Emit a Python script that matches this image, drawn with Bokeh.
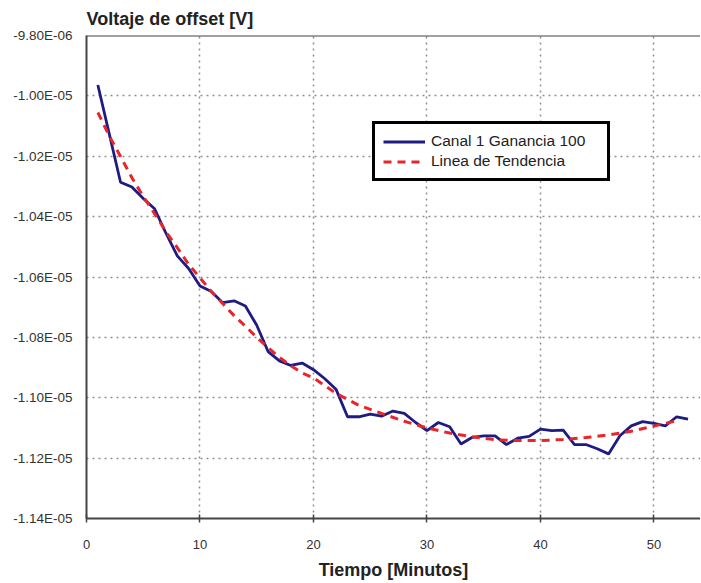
from bokeh.plotting import figure
from bokeh.models import (Range1d, FixedTicker, CustomJSTickFormatter, Legend, LegendItem, Span)
from bokeh.embed import file_html
from bokeh.resources import INLINE

# ---- data ----
minutes = list(range(1, 54))
canal1 = [-0.9964e-5, -1.0125e-5, -1.0286e-5, -1.0302e-5, -1.0340e-5, -1.0374e-5, -1.0455e-5,
          -1.0530e-5, -1.0572e-5, -1.0630e-5, -1.0648e-5, -1.0685e-5, -1.0679e-5, -1.0696e-5,
          -1.0760e-5, -1.0847e-5, -1.0878e-5, -1.0893e-5, -1.0885e-5, -1.0907e-5, -1.0937e-5,
          -1.0973e-5, -1.1063e-5, -1.1063e-5, -1.1054e-5, -1.1061e-5, -1.1044e-5, -1.1052e-5,
          -1.1082e-5, -1.1109e-5, -1.1082e-5, -1.1096e-5, -1.1153e-5, -1.1131e-5, -1.1126e-5,
          -1.1126e-5, -1.1155e-5, -1.1134e-5, -1.1128e-5, -1.1104e-5, -1.1109e-5, -1.1107e-5,
          -1.1155e-5, -1.1155e-5, -1.1169e-5, -1.1186e-5, -1.1126e-5, -1.1093e-5, -1.1079e-5,
          -1.1085e-5, -1.1093e-5, -1.1063e-5, -1.1071e-5]

trend_x = [1, 2, 3, 4, 5, 6, 7, 8, 9, 10, 11, 12, 13, 14, 15, 16, 17, 18, 19, 20, 22, 24, 26,
           28, 30, 32, 34, 36, 38, 40, 42, 44, 46, 48, 50, 52]
trend_y = [-1.0055e-5, -1.0132e-5, -1.0201e-5, -1.0271e-5, -1.0333e-5, -1.0390e-5, -1.0450e-5,
           -1.0503e-5, -1.0558e-5, -1.0603e-5, -1.0648e-5, -1.0688e-5, -1.0728e-5, -1.0763e-5,
           -1.0800e-5, -1.0834e-5, -1.0866e-5, -1.0894e-5, -1.0918e-5, -1.0934e-5, -1.0986e-5,
           -1.1025e-5, -1.1052e-5, -1.1078e-5, -1.1100e-5, -1.1117e-5, -1.1129e-5, -1.1139e-5,
           -1.1142e-5, -1.1142e-5, -1.1138e-5, -1.1132e-5, -1.1123e-5, -1.1111e-5, -1.1094e-5,
           -1.1076e-5]

ytick_values = [-1.14e-5, -1.12e-5, -1.10e-5, -1.08e-5, -1.06e-5, -1.04e-5, -1.02e-5, -1.00e-5, -9.80e-6]
ytick_labels = ["-1.14E-05", "-1.12E-05", "-1.10E-05", "-1.08E-05", "-1.06E-05", "-1.04E-05",
                "-1.02E-05", "-1.00E-05", "-9.80E-06"]
xtick_values = [0, 10, 20, 30, 40, 50]

series_names = ["Canal 1 Ganancia 100", "Linea de Tendencia"]

FONT = "Liberation Sans"

p = figure(width=700, height=582, output_backend="svg", toolbar_location=None,
           x_range=Range1d(0, 54.1), y_range=Range1d(-1.14e-5, -9.8e-6),
           min_border_left=86, min_border_right=0, min_border_top=34, min_border_bottom=60,
           title="Voltaje de offset [V]")
p.outline_line_color = None
p.background_fill_color = "white"

p.title.text_font = FONT
p.title.text_font_size = "18px"
p.title.text_font_style = "bold"
p.title.text_color = "#222222"
p.title.align = "left"
p.title.standoff = 13

# axes
xa = p.xaxis[0]
xa.ticker = FixedTicker(ticks=xtick_values)
xa.axis_label = "Tiempo [Minutos]"
xa.axis_label_text_font = FONT
xa.axis_label_text_font_size = "18px"
xa.axis_label_text_font_style = "bold"
xa.axis_label_text_color = "#222222"
xa.axis_label_standoff = 8
xa.major_label_text_font = FONT
xa.major_label_text_font_size = "13px"
xa.major_label_text_color = "#333333"
xa.major_label_standoff = 17
xa.major_tick_in = 4
xa.major_tick_out = 4
xa.minor_tick_line_color = None
xa.axis_line_width = 2
xa.axis_line_color = "#444444"
xa.major_tick_line_color = "#444444"
xa.major_tick_line_width = 1.5

ya = p.yaxis[0]
ya.ticker = FixedTicker(ticks=ytick_values)
ya.formatter = CustomJSTickFormatter(args=dict(vals=ytick_values, labs=ytick_labels), code="""
    for (let i = 0; i < vals.length; i++) {
        if (Math.abs(tick - vals[i]) < 1e-12) { return labs[i]; }
    }
    return "";
""")
ya.major_label_text_font = FONT
ya.major_label_text_font_size = "13.5px"
ya.major_label_text_color = "#333333"
ya.major_label_standoff = 14
ya.major_tick_in = 0
ya.major_tick_out = 0
ya.minor_tick_line_color = None
ya.axis_line_width = 2
ya.axis_line_color = "#444444"

for g in (p.xgrid[0], p.ygrid[0]):
    g.grid_line_color = "#8f8f8f"
    g.grid_line_dash = "2 4"
    g.grid_line_width = 1.5

p.add_layout(Span(location=-9.8e-6, dimension="width", line_color="#444444", line_width=2))

r1 = p.line(minutes, canal1, line_color="#1e1b82", line_width=2.8)
r2 = p.line(trend_x, trend_y, line_color="#e8262a", line_width=3, line_dash="8 6")

legend = Legend(items=[LegendItem(label=series_names[0], renderers=[r1]),
                       LegendItem(label=series_names[1], renderers=[r2])],
                location=(286, 337), border_line_color="black", border_line_width=3,
                border_line_alpha=1.0,
                background_fill_color="white", background_fill_alpha=1.0,
                label_text_font=FONT, label_text_font_size="15.5px", label_text_color="#222222",
                glyph_width=42, glyph_height=17, label_height=17, label_width=168,
                label_standoff=6, padding=8, spacing=2, margin=0)
p.add_layout(legend, "center")

open("out.html", "w").write(file_html(p, INLINE))
